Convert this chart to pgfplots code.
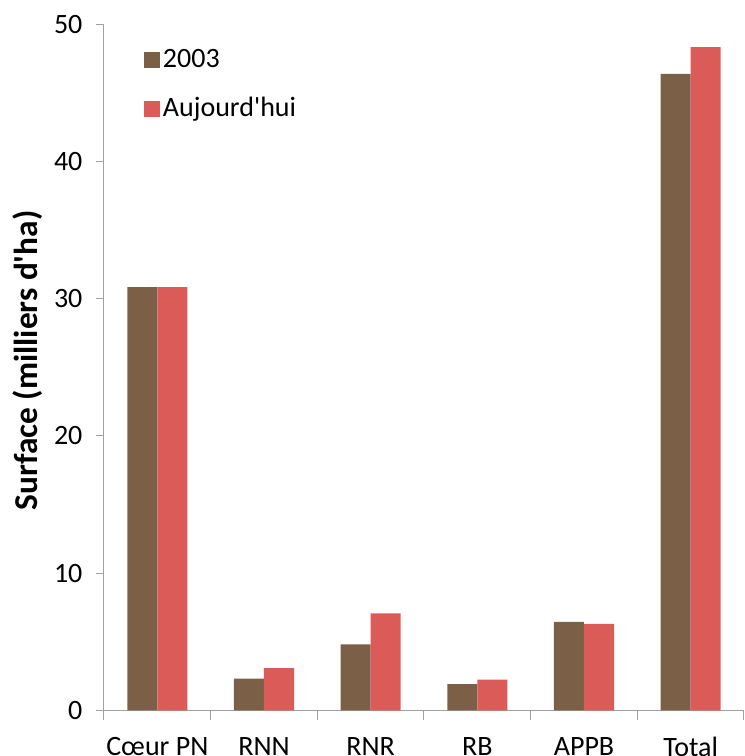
\documentclass[border=0pt]{standalone}
\usepackage{fontspec}
\setmainfont{Carlito}
\usepackage{pgfplots}
\pgfplotsset{compat=1.18}
\definecolor{brun}{HTML}{7B5F47}
\definecolor{rouge}{HTML}{DA5B57}
\definecolor{axe}{HTML}{A0A0A0}
\begin{document}
\fontsize{21}{25}\selectfont
\begin{tikzpicture}
% picture frame: 744x756 px at 0.75pt per px
\path[use as bounding box] (-78pt,-34.275pt) rectangle (480pt,532.725pt);
\begin{axis}[
  at={(0pt,0pt)}, anchor=south west,
  scale only axis, width=480pt, height=514.5pt,
  ybar=0pt, bar width=22.5pt,
  xmin=-0.5, xmax=5.5, ymin=0, ymax=50,
  xtick={0,...,5},
  xticklabels={Cœur PN,RNN,RNR,RB,APPB,Total},
  minor xtick={-0.5,0.5,...,5.5},
  ytick={0,10,...,50},
  tick align=outside,
  major tick length=6pt, minor tick length=7.5pt,
  xtick style={draw=none},
  minor x tick style={draw=axe, line width=0.75pt},
  ytick style={draw=axe, line width=0.75pt},
  axis x line*=bottom, axis y line*=left,
  axis line style={draw=axe, line width=0.75pt},
  /pgf/number format/assume math mode=true,
  tick label style={font=\fontsize{21}{25}\selectfont},
  xticklabel style={yshift=-7pt},
  yticklabel style={xshift=-3pt},
  ylabel={\bfseries Surface (milliers d\textquotesingle ha)},
  ylabel style={at={(axis description cs:-0.104,0.51)}, anchor=base, rotate=0,
    font=\fontsize{25}{30}\selectfont},
  legend style={at={(axis description cs:0.0625,0.968)}, anchor=north west,
    draw=none, fill=none, inner sep=0pt, row sep=15pt,
    font=\fontsize{21}{25}\selectfont},
  legend cell align=left,
  legend image code/.code={\fill[#1] (0pt,-6pt) rectangle (12pt,6pt);},
]
\addplot[fill=brun, draw=none] coordinates {(0,30.85) (1,2.3) (2,4.8) (3,1.9) (4,6.45) (5,46.38)};
\addplot[fill=rouge, draw=none] coordinates {(0,30.85) (1,3.08) (2,7.07) (3,2.23) (4,6.3) (5,48.34)};
\legend{2003,Aujourd\textquotesingle hui}
\end{axis}
\end{tikzpicture}
\end{document}
